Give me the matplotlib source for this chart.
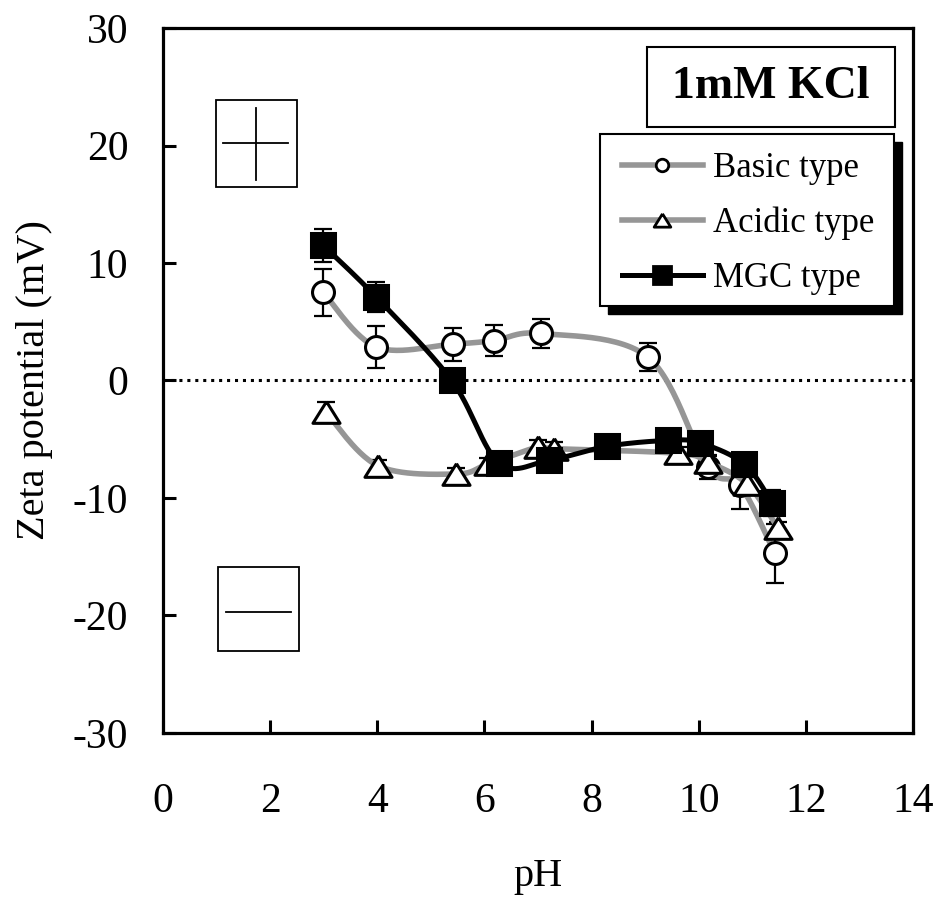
import numpy as np
import matplotlib

matplotlib.use("Agg")
import matplotlib.pyplot as plt
from matplotlib.lines import Line2D
from matplotlib.patches import Rectangle

plt.rcParams["font.family"] = ["Liberation Serif", "DejaVu Serif"]
plt.rcParams["axes.unicode_minus"] = False

# Basic type (open circles)
basic_ph = [2.99, 3.98, 5.41, 6.18, 7.06, 9.05, 10.17, 10.77, 11.42]
basic_zeta = [7.5, 2.85, 3.1, 3.4, 4.0, 2.0, -7.4, -8.9, -14.7]
basic_err = [2.0, 1.8, 1.4, 1.3, 1.2, 1.2, 1.0, 2.0, 2.5]

# Acidic type (open triangles)
acidic_ph = [3.04, 4.01, 5.47, 6.07, 7.0, 7.3, 9.61, 10.17, 10.9, 11.48]
acidic_zeta = [-2.7, -7.25, -7.96, -7.1, -5.66, -5.8, -6.2, -6.95, -8.8, -12.55]
acidic_err = [0.9, 0.5, 0.5, 0.5, 0.6, 0.6, 0.5, 0.6, 0.6, 0.5]

# MGC type (filled squares)
mgc_ph = [2.99, 3.98, 5.39, 6.27, 7.2, 8.29, 9.43, 10.02, 10.85, 11.37]
mgc_zeta = [11.5, 7.1, 0.0, -7.0, -6.8, -5.6, -5.1, -5.3, -7.1, -10.4]
mgc_err = [1.4, 1.3, 0.5, 0.5, 0.5, 0.5, 0.5, 0.6, 0.6, 1.1]

x_ticks = [0, 2, 4, 6, 8, 10, 12, 14]
y_ticks = [-30, -20, -10, 0, 10, 20, 30]

GRAY = "#969696"
TRIANGLE = [(0, 0.8), (-1, -0.8), (1, -0.8), (0, 0.8)]


def smooth(x, y, steps=30):
    # Excel-style smoothed line (cubic Bezier, Catmull-Rom control points)
    pts = np.column_stack([x, y]).astype(float)
    ext = np.vstack([pts[0], pts, pts[-1]])
    t = np.linspace(0, 1, steps)[:, None]
    segs = []
    for i in range(len(pts) - 1):
        p0, p3 = ext[i + 1], ext[i + 2]
        c1 = p0 + (ext[i + 2] - ext[i]) / 6
        c2 = p3 - (ext[i + 3] - ext[i + 1]) / 6
        segs.append((1 - t) ** 3 * p0 + 3 * (1 - t) ** 2 * t * c1
                    + 3 * (1 - t) * t ** 2 * c2 + t ** 3 * p3)
    curve = np.vstack(segs)
    return curve[:, 0], curve[:, 1]


def draw_series(ax, x, y, err, color, lw, marker, ms, mfc, z):
    ax.errorbar(x, y, yerr=err, fmt="none", ecolor="black", elinewidth=1.6,
                capsize=6.5, capthick=1.6, zorder=z)
    sx, sy = smooth(x, y)
    ax.plot(sx, sy, color=color, lw=lw, solid_capstyle="round", zorder=z + 0.1)
    ax.plot(x, y, ls="none", marker=marker, ms=ms, mfc=mfc, mec="black",
            mew=2.2, zorder=z + 0.2)


fig = plt.figure(figsize=(9.38, 9.01), dpi=100)
ax = fig.add_axes([0.1738, 0.1865, 0.7995, 0.7824])

ax.axhline(0, color="black", lw=2.2, ls=(0, (1, 1.6)), zorder=1)

draw_series(ax, basic_ph, basic_zeta, basic_err, GRAY, 4.0, "o", 15.8, "white", 2)
draw_series(ax, acidic_ph, acidic_zeta, acidic_err, GRAY, 4.0, TRIANGLE, 19.5, "white", 3)
draw_series(ax, mgc_ph, mgc_zeta, mgc_err, "black", 3.6, "s", 17.5, "black", 4)

ax.set_xlim(0, 14)
ax.set_ylim(-30, 30)
ax.set_xticks(x_ticks)
ax.set_yticks(y_ticks)
ax.tick_params(axis="both", direction="in", length=9.4, width=2.2, labelsize=30)
ax.tick_params(axis="x", pad=36)
ax.tick_params(axis="y", pad=25)
for s in ax.spines.values():
    s.set_linewidth(2.3)

ax.set_xlabel("pH", fontsize=29, va="center")
ax.xaxis.set_label_coords(0.5, -0.204)
ax.set_ylabel("Zeta potential (mV)", fontsize=29, va="center")
ax.yaxis.set_label_coords(-0.172, 0.5)

# sign boxes
ax.add_patch(Rectangle((0.99, 16.5), 1.51, 7.4, fill=False, lw=1.3, ec="black", zorder=5))
ax.plot([1.12, 2.33], [20.2, 20.2], color="black", lw=1.3, zorder=5)
ax.plot([1.74, 1.74], [17.1, 23.2], color="black", lw=1.3, zorder=5)
ax.add_patch(Rectangle((1.03, -23.0), 1.51, 7.1, fill=False, lw=1.3, ec="black", zorder=5))
ax.plot([1.17, 2.39], [-19.7, -19.7], color="black", lw=1.3, zorder=5)

# condition label
ax.add_patch(Rectangle((0.645, 0.860), 0.331, 0.113, transform=ax.transAxes,
                       fill=False, lw=1.5, ec="black", zorder=6))
ax.text(0.811, 0.917, "1mM KCl", transform=ax.transAxes, ha="center", va="center",
        fontsize=33, fontweight="bold", zorder=6)

# legend frame with shadow
sh = 8 / 750
ax.add_patch(Rectangle((0.583 + sh, 0.606 - 8 / 705), 0.392, 0.244, transform=ax.transAxes,
                       fc="black", ec="black", zorder=6))
ax.add_patch(Rectangle((0.583, 0.606), 0.392, 0.244, transform=ax.transAxes,
                       fc="white", ec="black", lw=1.5, zorder=6.1))

handles = [
    Line2D([], [], color=GRAY, lw=4.0, marker="o", ms=9, mfc="white", mec="black", mew=2),
    Line2D([], [], color=GRAY, lw=4.0, marker=TRIANGLE, ms=12, mfc="white", mec="black", mew=2),
    Line2D([], [], color="black", lw=3.6, marker="s", ms=13, mfc="black", mec="black", mew=2),
]
labels = ["Basic type", "Acidic type", "MGC type"]
leg = ax.legend(handles, labels, loc="upper left", bbox_to_anchor=(0.612, 0.824),
                frameon=False, fontsize=25, handlelength=2.33, handletextpad=0.29,
                labelspacing=0.63, borderpad=0, borderaxespad=0)
leg.set_zorder(7)

fig.savefig("out.png", dpi=100)
